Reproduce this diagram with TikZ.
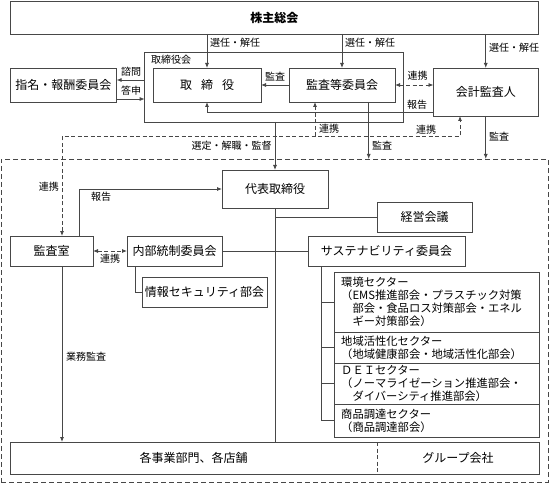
\documentclass[tikz,border=0pt]{standalone}
\usepackage{fontspec}
\setmainfont{Noto Sans CJK JP}
\usetikzlibrary{arrows.meta,calc}
\begin{document}
\begin{tikzpicture}[x=1pt,y=-1pt,
  box/.style={draw=black!72, line width=0.8pt, inner sep=0pt, outer sep=0pt, font=\fontsize{12}{14}\selectfont, text=black},
  btxt/.style={inner sep=0pt, font=\fontsize{12}{14}\selectfont, text=black},
  ln/.style={draw=black!72, line width=0.8pt},
  tip/.tip={Latex[length=5pt,width=4pt]},
  arr/.style={ln, -tip},
  dsh/.style={dash pattern=on 4pt off 2.5pt},
  lbl/.style={font=\fontsize{10}{12}\selectfont, inner sep=0pt, text=black},
  sec/.style={font=\fontsize{11.3}{13}\selectfont, inner sep=0pt, align=left, anchor=west, text=black}
]
\useasboundingbox (0,0) rectangle (549,484);
\fill[white] (0,0) rectangle (549,484);

% top level
\node[box, minimum width=527.5pt, minimum height=33pt] (kabu) at (274.25,17.5) {\bfseries 株主総会};
\node[box, minimum width=259pt, minimum height=70pt] (frame) at (274.15,87) {};
\node[lbl, anchor=west] (framelbl) at (151,60) {取締役会};
\node[box, minimum width=108pt, minimum height=34pt] (tori) at (207,85) {取\hspace{0.75em}締\hspace{0.75em}役};
\node[box, minimum width=106pt, minimum height=34pt] (kansa) at (342,85) {監査等委員会};
\node[box, minimum width=106.6pt, minimum height=34pt] (shimei) at (63.3,85) {指名・報酬委員会};
\node[box, minimum width=104.5pt, minimum height=48pt] (kaikei) at (485.75,92) {会計監査人};

% outer dashed area
\node[draw=black!72, line width=0.8pt, dash pattern=on 5pt off 3pt, minimum width=547pt, minimum height=323pt, inner sep=0pt, outer sep=0pt] (outer) at (274.5,320.5) {};

\node[box, minimum width=106pt, minimum height=38pt] (daihyo) at (275,189) {代表取締役};
\node[box, minimum width=95pt, minimum height=30pt] (keiei) at (424.5,217) {経営会議};
\node[box, minimum width=157pt, minimum height=30pt] (sust) at (386.5,251) {サステナビリティ委員会};
\node[box, minimum width=83pt, minimum height=30pt] (kansashitsu) at (51.5,251) {監査室};
\node[box, minimum width=95pt, minimum height=30pt] (naibu) at (174.5,251) {内部統制委員会};
\node[box, minimum width=125pt, minimum height=30pt] (joho) at (204.5,292) {情報セキュリティ部会};

% sectors
\node[box, minimum width=205pt, minimum height=60pt] (s1) at (436.5,302) {};
\node[box, minimum width=205pt, minimum height=31pt] (s2) at (436.5,347.5) {};
\node[box, minimum width=205pt, minimum height=41pt] (s3) at (436.5,383.5) {};
\node[box, minimum width=205pt, minimum height=33pt] (s4) at (436.5,420.5) {};
\node[sec] (t1) at ([xshift=7pt]s1.west) {環境セクター\\（EMS推進部会・プラスチック対策\\　部会・食品ロス対策部会・エネル\\　ギー対策部会）};
\node[sec] (t2) at ([xshift=7pt]s2.west) {地域活性化セクター\\（地域健康部会・地域活性化部会）};
\node[sec] (t3) at ([xshift=7pt]s3.west) {ＤＥＩセクター\\（ノーマライゼーション推進部会・\\　ダイバーシティ推進部会）};
\node[sec] (t4) at ([xshift=7pt]s4.west) {商品調達セクター\\（商品調達部会）};

% bottom
\node[box, minimum width=529pt, minimum height=32pt] (kaku) at (274.5,458) {};
\node[btxt] (kakut) at (193.5,458) {各事業部門、各店舗};
\node[btxt] (group) at (458,458) {グループ会社};
\coordinate (dv) at (377,0);
\draw[ln, dsh] (kaku.north -| dv) -- (kaku.south -| dv);

% helper coordinates
\coordinate (y80) at (0,80);
\coordinate (y99) at (0,99);
\coordinate (y112) at (0,112);
\coordinate (xk) at (368.7,0);
\coordinate (c1) at (62,136.5);
\coordinate (c2) at (460,136.5);
\coordinate (c3) at (315,136.5);
\coordinate (x79) at (79,0);
\coordinate (x135) at (135,0);
\coordinate (xb) at (321,0);

% top connectors
\draw[arr] (kabu.south -| tori.north) -- (tori.north);
\draw[arr] (kabu.south -| kansa.north) -- (kansa.north);
\draw[arr] (kabu.south -| kaikei.north) -- (kaikei.north);
\draw[arr] (frame.west |- y80) -- (shimei.east |- y80);
\draw[arr] (shimei.east |- y99) -- (frame.west |- y99);
\draw[arr] (kansa.west) -- (tori.east);
\draw[ln, dsh, tip-tip] (kansa.east) -- (kansa.east -| kaikei.west);
\draw[arr] (kaikei.west |- y112) -| (tori.south);
\draw[arr] (kansa.south -| xk) -- (outer.north -| xk);
\draw[arr] (kaikei.south) -- (kaikei.south |- outer.north);
\draw[arr] (frame.south -| daihyo.north) -- (daihyo.north);
\draw[ln, dsh, tip-tip] (kansashitsu.north -| c1) -- (c1) -- (c2) -- (kaikei.south -| c2);
\draw[ln, dsh, -tip] (c3) -- (kansa.south -| c3);

% lower connectors
\draw[arr] (kansashitsu.north -| x79) |- (daihyo.west);
\draw[ln, dsh, tip-tip] (kansashitsu.east) -- (naibu.west);
\draw[ln] (naibu.east) -- (sust.west);
\draw[ln] (daihyo.south) -- (kaku.north -| daihyo.south);
\draw[ln] (daihyo.south |- keiei.west) -- (keiei.west);
\draw[ln] (naibu.south -| x135) |- (joho.west);
\draw[arr] (kansashitsu.south -| c1) -- (kaku.north -| c1);
\draw[ln] (sust.south -| xb) |- (s4.west);
\draw[ln] (s1.west -| xb) -- (s1.west);
\draw[ln] (s2.west -| xb) -- (s2.west);
\draw[ln] (s3.west -| xb) -- (s3.west);

% labels
\node[lbl, anchor=west] (l1) at (210,43) {選任・解任};
\node[lbl, anchor=west] (l2) at (345,43) {選任・解任};
\node[lbl, anchor=west] (l3) at (489,48) {選任・解任};
\node[lbl] (l4) at (275,77) {監査};
\node[lbl] (l5) at (131,72) {諮問};
\node[lbl] (l6) at (131,91) {答申};
\node[lbl] (l7) at (417.5,76) {連携};
\node[lbl] (l8) at (417,105) {報告};
\node[lbl, anchor=west] (l9) at (372,146) {監査};
\node[lbl, anchor=west] (l10) at (489,137) {監査};
\node[lbl] (l11) at (231.5,146) {選定・解職・監督};
\node[lbl, anchor=west] (l12) at (319,129) {連携};
\node[lbl] (l13) at (426,130) {連携};
\node[lbl, anchor=east] (l14) at (59,187) {連携};
\node[lbl] (l15) at (101,197) {報告};
\node[lbl] (l16) at (110,259) {連携};
\node[lbl, anchor=west] (l17) at (66,357) {業務監査};
\end{tikzpicture}
\end{document}
